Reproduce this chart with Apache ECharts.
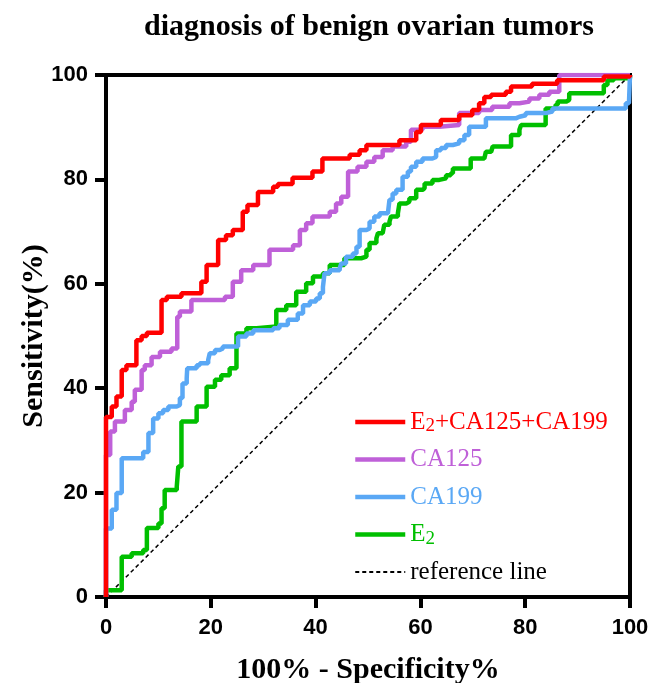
<!DOCTYPE html>
<html>
<head>
<meta charset="utf-8">
<script src="https://cdn.jsdelivr.net/npm/echarts@6/dist/echarts.min.js"></script>
<style>html,body{margin:0;padding:0;background:#fff}#c{width:650px;height:683px}</style>
</head>
<body>
<div id="c"></div>
<script>
// ROC points: [1 - specificity (%), sensitivity (%)], riser tops of staircase
const comboROC = [[0,0],[0,34.5],[1.1,36.5],[2.0,38.4],[3.0,43.5],[3.9,44.4],[5.8,49.2],[6.8,50.0],[7.8,50.6],[10.6,56.9],[11.6,57.5],[14.4,58.2],[18.2,60.4],[19.2,63.6],[21.4,68.4],[22.9,69.3],[24.2,70.3],[26.1,73.8],[27.0,75.1],[29.0,77.6],[31.9,78.6],[32.8,79.1],[35.6,80.3],[39.4,81.5],[41.3,84.0],[46.5,84.7],[48.4,85.6],[49.7,86.6],[56.0,87.5],[59.2,89.1],[60.1,90.4],[63.9,91.4],[67.4,92.3],[69.9,93.3],[71.2,94.6],[72.2,95.8],[73.5,96.2],[76.3,96.8],[77.3,97.8],[81.3,98.3],[86.1,99.0],[95.0,99.7],[100,100]];
const ca125ROC = [[0,0],[0,27.2],[0.8,31.7],[1.7,33.6],[3.6,35.8],[4.9,37.4],[5.5,39.7],[6.8,43.5],[7.4,44.4],[8.7,46.0],[10.3,47.0],[12.5,47.6],[13.6,53.7],[14.1,54.7],[16.3,56.9],[22.7,57.5],[24.2,60.4],[25.8,62.6],[28.1,63.6],[31.2,66.5],[35.7,67.4],[37.0,70.3],[38.2,71.6],[39.4,72.9],[42.7,73.8],[43.9,75.4],[44.9,76.7],[46.2,81.5],[48.0,82.4],[49.7,83.4],[51.2,84.3],[52.8,85.6],[54.7,86.3],[57.3,87.2],[58.2,89.5],[60.4,90.1],[63.6,90.4],[67.4,92.7],[71.2,93.3],[73.7,93.9],[77.0,94.6],[78.9,94.9],[80.8,95.5],[82.7,96.2],[84.6,96.8],[86.5,100],[100,100]];
const ca199ROC = [[0,0],[0,13.1],[1.1,16.7],[2.0,19.9],[3.0,26.6],[7.1,27.8],[8.1,31.4],[9.0,34.2],[10.0,35.2],[10.9,35.8],[11.9,36.5],[13.5,36.8],[14.1,38.1],[14.6,40.9],[15.4,41.9],[15.5,43.8],[17.3,44.4],[17.9,44.8],[19.5,45.4],[19.8,46.7],[20.8,47.3],[21.7,47.6],[22.3,48.0],[25.2,49.9],[26.8,50.5],[28.1,51.1],[31.9,51.5],[33.1,52.1],[34.7,53.1],[36.6,54.3],[37.6,55.9],[38.9,56.6],[40.1,57.2],[40.8,58.2],[41.4,59.4],[41.7,62.0],[42.7,62.6],[44.6,63.0],[44.9,63.9],[45.8,65.2],[47.1,65.8],[47.8,67.1],[48.4,70.3],[49.7,70.6],[50.3,71.9],[51.2,72.9],[52.2,73.5],[53.8,73.8],[54.1,76.1],[54.7,77.3],[55.4,78.0],[56.6,80.5],[57.6,81.5],[58.2,82.4],[59.2,83.4],[60.4,84.0],[62.3,84.3],[63.0,85.6],[63.9,86.0],[64.9,86.6],[66.2,86.9],[67.4,87.5],[68.4,88.5],[69.3,90.1],[72.5,91.7],[78.2,92.0],[78.9,92.3],[80.1,92.7],[83.9,93.0],[85.2,93.6],[99.2,94.6],[99.8,94.9],[100,100]];
const e2ROC = [[0,0],[0,1.3],[3.0,7.7],[4.9,8.4],[7.1,9.0],[7.8,13.2],[10.0,14.1],[10.6,17.0],[11.2,20.5],[13.5,21.1],[13.8,25.0],[14.4,33.6],[17.3,36.5],[19.2,40.3],[20.8,41.6],[22.0,42.5],[23.6,43.8],[24.9,50.5],[26.8,51.5],[28.7,51.8],[32.5,55.0],[34.4,55.9],[36.3,58.5],[38.2,60.1],[39.5,61.4],[41.4,62.0],[42.7,63.6],[45.5,64.9],[48.7,65.2],[49.7,66.5],[50.3,67.8],[51.6,68.7],[51.9,69.7],[52.8,70.0],[53.1,71.3],[54.1,71.9],[54.4,72.9],[55.7,73.5],[56.0,75.4],[57.3,75.7],[57.9,76.4],[59.2,78.0],[60.4,78.3],[60.8,79.2],[62.3,79.9],[63.6,80.2],[64.9,80.8],[65.8,81.2],[66.2,82.1],[69.6,84.0],[72.2,84.3],[72.5,85.3],[73.5,85.6],[73.8,86.3],[77.3,88.5],[78.9,89.5],[79.2,90.4],[83.9,93.6],[85.8,94.3],[86.2,94.9],[87.8,95.2],[88.4,96.5],[95.0,98.1],[95.7,99.0],[96.9,99.4],[100,100]];
const refLine = [[0,0],[100,100]];
const seriesNames = ['E2+CA125+CA199','CA125','CA199','E2','reference line'];
const seriesColors = ['#ff0000','#bf60d8','#5aa8f5','#00bf00','#000000'];
const axisTicks = [0,20,40,60,80,100];

const serif = '"Liberation Serif","Times New Roman",serif';
const sans = '"Liberation Sans",Arial,sans-serif';

const chart = echarts.init(document.getElementById('c'), null, {renderer:'canvas'});

function legendItem(i){
  const item = {
    name: seriesNames[i],
    textStyle: {
      color: seriesColors[i],
      rich: { sub: { color: seriesColors[i], fontFamily: serif, fontSize: 19, padding: [9,0,0,0], lineHeight: 19 } }
    }
  };
  if (i < 4) item.lineStyle = { width: 4.5 };
  return item;
}

const option = {
  animation: false,
  backgroundColor: '#fff',
  title: {
    text: 'diagnosis of benign ovarian tumors',
    left: 369,
    top: 12,
    padding: 0,
    textAlign: 'center',
    textStyle: { fontFamily: serif, fontWeight: 'bold', fontSize: 30, color: '#000' }
  },
  grid: { left: 106, right: 20, top: 75, bottom: 86, show: true, borderColor: '#000', borderWidth: 4,
    outerBoundsMode: 'none', containLabel: false },
  legend: {
    orient: 'vertical',
    left: 353,
    top: 408,
    padding: 0,
    itemWidth: 50,
    itemHeight: 6,
    itemGap: 9.5,
    itemStyle: { color: 'rgba(0,0,0,0)', borderWidth: 0 },
    textStyle: { fontFamily: serif, fontSize: 25, lineHeight: 28 },
    data: [0,1,2,3,4].map(legendItem),
    formatter: function(name){ return name.replace('E2', 'E{sub|2}'); }
  },
  xAxis: {
    type: 'value', min: 0, max: 100, interval: 20,
    name: '100% - Specificity%', nameLocation: 'middle', nameGap: 58, nameMoveOverlap: false,
    nameTextStyle: { fontFamily: serif, fontWeight: 'bold', fontSize: 30, color: '#000' },
    axisLine: { show: true, lineStyle: { color: '#000', width: 4 } },
    axisTick: { show: true, length: 11, lineStyle: { color: '#000', width: 4 } },
    axisLabel: { fontFamily: sans, fontWeight: 'bold', fontSize: 22, color: '#000', margin: 20,
      formatter: function(v){ return axisTicks.indexOf(v) >= 0 ? String(v) : ''; } },
    splitLine: { show: false }
  },
  yAxis: {
    type: 'value', min: 0, max: 100, interval: 20,
    name: 'Sensitivity(%)', nameLocation: 'middle', nameGap: 57, nameMoveOverlap: false,
    nameTextStyle: { fontFamily: serif, fontWeight: 'bold', fontSize: 30, color: '#000' },
    axisLine: { show: true, lineStyle: { color: '#000', width: 4 } },
    axisTick: { show: true, length: 11, lineStyle: { color: '#000', width: 4 } },
    axisLabel: { fontFamily: sans, fontWeight: 'bold', fontSize: 22, color: '#000', margin: 18 },
    splitLine: { show: false }
  },
  series: [
    { name: seriesNames[4], type: 'line', data: refLine, symbol: 'none', z: 1,
      lineStyle: { color: '#000', width: 1.5, type: [4,3] }, itemStyle: { color: '#000' } },
    { name: seriesNames[3], type: 'line', data: e2ROC, step: 'end', symbol: 'none', z: 2,
      lineStyle: { color: seriesColors[3], width: 4.5 }, itemStyle: { color: seriesColors[3] } },
    { name: seriesNames[2], type: 'line', data: ca199ROC, step: 'end', symbol: 'none', z: 3,
      lineStyle: { color: seriesColors[2], width: 4.5 }, itemStyle: { color: seriesColors[2] } },
    { name: seriesNames[1], type: 'line', data: ca125ROC, step: 'end', symbol: 'none', z: 4,
      lineStyle: { color: seriesColors[1], width: 4.5 }, itemStyle: { color: seriesColors[1] } },
    { name: seriesNames[0], type: 'line', data: comboROC, step: 'end', symbol: 'none', z: 5,
      lineStyle: { color: seriesColors[0], width: 4.5 }, itemStyle: { color: seriesColors[0] } }
  ]
};
chart.setOption(option);
</script>
</body>
</html>
